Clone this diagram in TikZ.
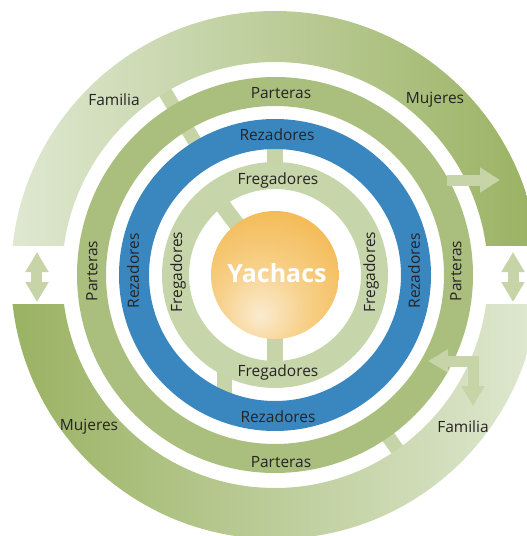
\documentclass[tikz,border=0pt]{standalone}
\usepackage{fontspec}
\usepackage{tikz}
\usetikzlibrary{arrows.meta}
\newfontfamily\ringfont{Open Sans}
\definecolor{cDk}{HTML}{9AB262}
\definecolor{cLt}{HTML}{DFE8D1}
\definecolor{cPt}{HTML}{AABF7E}
\definecolor{cRz}{HTML}{3A87C0}
\definecolor{cFg}{HTML}{C7D5AA}
\definecolor{cLk}{HTML}{C6D4A8}
\definecolor{cTx}{HTML}{262324}
\definecolor{cYl}{HTML}{FBEBD0}
\definecolor{cYm}{HTML}{F7CF86}
\definecolor{cYo}{HTML}{F0AC32}
\pgfdeclareradialshading{yglow}{\pgfpoint{-6bp}{-16bp}}{%
  color(0bp)=(cYl); color(18bp)=(cYm); color(50bp)=(cYo); color(100bp)=(cYo)}
\tikzset{
  ringlabel/.style={font=\ringfont\fontsize{15.5}{18}\selectfont,text=cTx,inner sep=0pt},
  sidelabel/.style={ringlabel,rotate=90},
  link/.style={fill=cLk},
  blockarrow/.style={line width=11pt,cLk,-{Triangle[length=20pt,width=24pt]}},
  twoway/.style={blockarrow,{Triangle[length=20pt,width=22pt]}-{Triangle[length=20pt,width=22pt]}},
}

\begin{document}
\begin{tikzpicture}[x=1pt,y=1pt]
  \useasboundingbox (-275,-261) rectangle (252,275);
  % links between the rings
  \fill[link,rotate=121] (190,-7) rectangle (222,7);
  \fill[link,rotate=121] (150,-7) rectangle (175,7);
  \fill[link,rotate=-55] (190,-7) rectangle (222,7);
  \fill[link,rotate=90] (105,-8) rectangle (135,8);
  \fill[link,rotate=127] (55,-8) rectangle (95,8);
  \fill[link,rotate=270] (55,-8) rectangle (95,8);
  \fill[link] (-58,-90) rectangle (-43,-125);
  % outer halves
  \begin{scope}
    \clip (-280,30) rectangle (280,280);
    \shade[left color=cLt,right color=cDk,even odd rule] (0,0) circle (264) (0,0) circle (213);
  \end{scope}
  \begin{scope}
    \clip (-280,-29) rectangle (280,-280);
    \shade[left color=cDk,right color=cLt,even odd rule] (0,0) circle (264) (0,0) circle (213);
  \end{scope}
  % rings
  \fill[cPt,even odd rule] (0,0) circle (198) (0,0) circle (169);
  \fill[cRz,even odd rule] (0,0) circle (156) (0,0) circle (126);
  \fill[cFg,even odd rule] (0,0) circle (113) (0,0) circle (86);
  \shade[shading=yglow] (0,0) circle (64);
  % arrows
  \coordinate (aS) at (172,95);
  \coordinate (aE) at (225,95);
  \draw[blockarrow] (aS) -- (aE);
  \coordinate (lT) at (-238,23);
  \coordinate (lB) at (-238,-27);
  \draw[twoway] (lT) -- (lB);
  \coordinate (rT) at (238,23);
  \coordinate (rB) at (238,-27);
  \draw[twoway] (rT) -- (rB);
  \coordinate (bL) at (153,-86);
  \coordinate (bC) at (198,-86);
  \coordinate (bD) at (198,-131);
  \draw[twoway,line join=miter] (bL) -- (bC) -- (bD);
  % labels
  \node[ringlabel] (famU) at (-161,175) {Familia};
  \node[ringlabel] (mujU) at (160,175) {Mujeres};
  \node[ringlabel] (famD) at (188,-152) {Familia};
  \node[ringlabel] (mujD) at (-186,-152) {Mujeres};
  \node[ringlabel] (partT) at (6,182) {Parteras};
  \node[ringlabel] (partB) at (6,-187) {Parteras};
  \node[sidelabel] (partL) at (-183,4) {Parteras};
  \node[sidelabel] (partR) at (181,4) {Parteras};
  \node[ringlabel] (rezT) at (2,140) {Rezadores};
  \node[ringlabel] (rezB) at (3,-142) {Rezadores};
  \node[sidelabel] (rezL) at (-142,4) {Rezadores};
  \node[sidelabel] (rezR) at (139,4) {Rezadores};
  \node[ringlabel] (fregT) at (3,95) {Fregadores};
  \node[ringlabel] (fregB) at (3,-97) {Fregadores};
  \node[sidelabel] (fregL) at (-97,3) {Fregadores};
  \node[sidelabel] (fregR) at (96,3) {Fregadores};
  \node[font=\ringfont\bfseries\fontsize{25}{28}\selectfont,text=white,inner sep=0pt] (yach) at (2,2) {Yachacs};
\end{tikzpicture}
\end{document}
